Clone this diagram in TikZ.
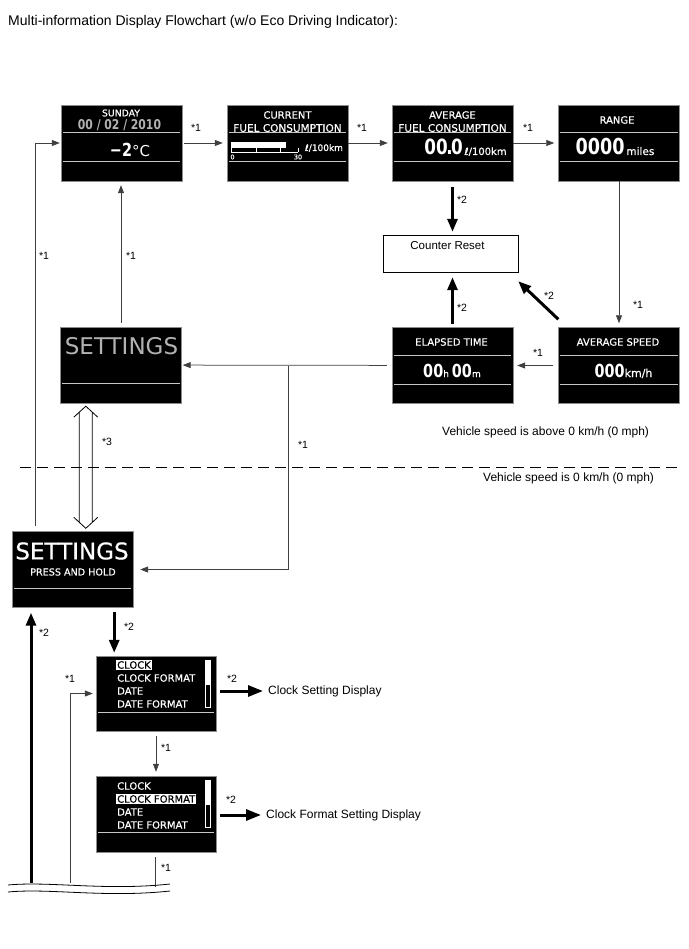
\documentclass[tikz,border=0pt]{standalone}
\usepackage{fontspec}
\setmainfont{Liberation Sans}
\newfontfamily\lcd[FakeBold=0.5]{DejaVu Sans}
\newfontfamily\lcdthin{DejaVu Sans}
\newfontfamily\lcdnum[FakeStretch=0.8]{DejaVu Sans Bold}
\usetikzlibrary{arrows.meta,positioning,calc}

\tikzset{
    screen/.style={draw=black!45, fill=black, minimum width=121pt, minimum height=76pt, inner sep=0pt},
    divider/.style={draw=black!22, line width=1.3pt},
    lcdtxt/.style={text=white, inner sep=0pt, font=\lcd\fontsize{#1}{#1}\selectfont},
    lcdtxt/.default=10,
    item/.style={lcdtxt=10, anchor=west},
    sel/.style={item, fill=white, text=black, inner xsep=1pt, inner ysep=1.2pt, xshift=-1pt},
    flow/.style={draw=black!75, line width=0.75pt, -{Triangle[length=8pt,width=6pt]}, shorten >=4pt},
    push/.style={line width=3pt, -{Triangle[length=13pt,width=10pt]}},
    tag/.style={inner sep=0pt, font=\fontsize{10.5}{12}\selectfont},
    note/.style={inner sep=0pt, anchor=west, font=\fontsize{12}{14}\selectfont},
    hollow/.style={line width=0.8pt},
}

\begin{document}
\begin{tikzpicture}[x=1pt,y=-1pt]
    \useasboundingbox (0,0) rectangle (688,949);

    \node[note, font=\fontsize{14}{16}\selectfont] (title) at (8,22) {Multi-information Display Flowchart (w/o Eco Driving Indicator):};

    % screens
    \node[screen] (sun) at (121.5,143) {};
    \node[screen] (cur) at (287.5,143) {};
    \node[screen] (avg) at (452.5,143) {};
    \node[screen] (rng) at (619,143) {};
    \node[screen] (ela) at (452.5,365.5) {};
    \node[screen] (spd) at (619,365.5) {};
    \node[screen] (set) at (121,365) {};
    \node[screen] (hold) at (72.5,569.5) {};
    \node[screen, minimum width=120pt, minimum height=75pt] (menuA) at (156,693.5) {};
    \node[screen, minimum width=120pt] (menuB) at (156,814) {};
    \node[draw, minimum width=135pt, minimum height=37pt] (reset) at (450.5,253.5) {};
    \node[inner sep=0pt, font=\fontsize{11.5}{13}\selectfont] (resettxt) at (447.5,245.5) {Counter Reset};

    \foreach \s in {sun,cur,avg,rng,ela,spd}
        \draw[divider] ([xshift=2pt,yshift=-28pt]\s.north west) -- ([xshift=-2pt,yshift=-28pt]\s.north east);
    \foreach \s in {sun,cur,avg,rng,ela,spd,set,hold,menuA,menuB}
        \draw[divider] ([xshift=2pt,yshift=-57pt]\s.north west) -- ([xshift=-2pt,yshift=-57pt]\s.north east);

    % screen contents
    \node[lcdtxt=9.3] (sunday) at (121,113) {SUNDAY};
    \node[lcdtxt=13.5, text=black!30] (date) at (119.5,125) {\lcdnum 00 / 02 / 2010};
    \node[lcdtxt=15] (temp) at (130,150) {{\lcdnum\fontsize{18}{18}\selectfont −2}\lcdthin°C};

    \node[lcdtxt=10] (curA) at (287.5,115) {CURRENT};
    \node[lcdtxt=10.5] (curB) at (287.5,128) {FUEL CONSUMPTION};
    \fill[white] (231,142) rectangle (286,148);
    \draw[white, line width=0.8pt] (231,152) -- (298,152);
    \foreach \x in {231,256,280,298}
        \draw[white, line width=0.8pt] (\x,148) -- (\x,152);
    \node[lcdtxt=6.5] (bar0) at (232.5,157) {0};
    \node[lcdtxt=6.5] (bar30) at (298,157) {30};
    \node[lcdtxt=9] (curU) at (324,148) {ℓ/100km};

    \node[lcdtxt=10] (avgA) at (452.5,115) {AVERAGE};
    \node[lcdtxt=10.5] (avgB) at (452.5,128) {FUEL CONSUMPTION};
    \node[lcdtxt=10, anchor=base] (avgV) at (465.5,155) {{\lcdnum\fontsize{21}{21}\selectfont 00\kern-1.5pt.\kern-1.5pt0}\,ℓ/100km};

    \node[lcdtxt=10] (rngA) at (617,120) {RANGE};
    \node[lcdtxt=10.5, anchor=base] (rngV) at (615,155) {{\lcdnum\fontsize{22}{22}\selectfont 0000}\,miles};

    \node[lcdtxt=10] (elaA) at (451.5,342) {ELAPSED TIME};
    \node[lcdtxt=9, anchor=base] (elaV) at (452,377) {{\lcdnum\fontsize{18}{18}\selectfont 00}h\,\,{\lcdnum\fontsize{18}{18}\selectfont 00}m};

    \node[lcdtxt=10] (spdA) at (618,342) {AVERAGE SPEED};
    \node[lcdtxt=11, anchor=base] (spdV) at (623.5,377) {{\lcdnum\fontsize{18}{18}\selectfont 000}km/h};

    \node[lcdtxt=23, text=black!30, font=\lcdthin\fontsize{23}{23}\selectfont] (setT) at (121.5,346.5) {SETTINGS};
    \node[lcdtxt=23] (holdT) at (72,551) {SETTINGS};
    \node[lcdtxt=9.6] (holdS) at (73,572) {PRESS AND HOLD};

    \foreach \t/\s [count=\i] in {CLOCK/sel, CLOCK FORMAT/item, DATE/item, DATE FORMAT/item}
        \node[\s] (a\i) at (117,652+13*\i) {\t};
    \foreach \t/\s [count=\i] in {CLOCK/item, CLOCK FORMAT/sel, DATE/item, DATE FORMAT/item}
        \node[\s] (b\i) at (117,773+13*\i) {\t};
    \foreach \m in {menuA,menuB} {
        \fill[white] ([xshift=-11pt,yshift=-5pt]\m.north east) rectangle ([xshift=-5pt,yshift=-29pt]\m.north east);
        \draw[white, line width=1pt] ([xshift=-10.5pt,yshift=-5pt]\m.north east) rectangle ([xshift=-5.5pt,yshift=-52pt]\m.north east);
    }

    % thin connectors
    \draw[flow, shorten <=2pt] (sun) -- (cur);
    \draw[flow] (cur) -- (avg);
    \draw[flow] (avg) -- (rng);
    \draw[flow] (rng) -- (spd);
    \draw[flow, shorten <=5pt] (spd) -- (ela);
    \draw[flow, shorten <=5pt, shorten >=1pt] (ela) -- (set);
    \coordinate (split) at (288,365.5);
    \draw[flow, shorten >=7pt] (split) |- (hold);
    \draw[flow, shorten <=4pt] (set.north) -- (set.north |- sun.south);
    \coordinate (loop) at (35,526);
    \draw[flow, shorten >=1pt] (loop) |- (sun);

    % thick connectors
    \draw[push, shorten <=6pt, shorten >=3pt] (avg.south) -- (avg.south |- reset.north);
    \draw[push, shorten <=3pt, shorten >=5pt] (ela.north) -- (ela.north |- reset.south);
    \draw[push] ([yshift=8pt]spd.north west) -- ([yshift=-9pt]reset.south east);
    \draw[push, shorten <=4pt, shorten >=3pt] ([xshift=-19pt]hold.south east) -- ([xshift=-19pt]hold.south east |- menuA.north);

    % lower part
    \coordinate (cut1) at (31,883);
    \coordinate (cut2) at (70,883);
    \coordinate (cut3) at (155,887);
    \draw[push, shorten >=5pt] (cut1) -- (cut1 |- hold.south);
    \draw[flow, shorten >=3pt] (cut2) |- (menuA);
    \draw[flow, shorten <=5pt] (menuA) -- (menuB);
    \draw[draw=black!75, line width=0.75pt, shorten <=5pt] (cut3 |- menuB.south) -- (cut3);
    \draw[line width=0.8pt] (8,885) .. controls (50,881) and (105,891) .. (170,884);
    \draw[line width=0.8pt] (8,892) .. controls (50,888) and (105,898) .. (170,891);

    \node[note] (clockset) at (268,691) {Clock Setting Display};
    \node[note] (clockfmt) at (266,815) {Clock Format Setting Display};
    \draw[push, -{Triangle[length=15pt,width=11pt]}, shorten <=4pt, shorten >=5pt] (menuA.east |- clockset.west) -- (clockset.west);
    \draw[push, -{Triangle[length=15pt,width=11pt]}, shorten <=4pt, shorten >=5pt] (menuB.east |- clockfmt.west) -- (clockfmt.west);

    % hollow double arrow
    \coordinate (dtop) at ([xshift=25.5pt,yshift=-3pt]set.south west);
    \coordinate (dbot) at ([xshift=74pt,yshift=3pt]hold.north west);
    \draw[hollow] ($(dtop)+(-12,11)$) -- (dtop) -- ($(dtop)+(12,11)$)
        ($(dtop)+(-6.5,6)$) -- ($(dbot)+(-6.5,-6)$)
        ($(dtop)+(6.5,6)$) -- ($(dbot)+(6.5,-6)$)
        ($(dbot)+(-12,-11)$) -- (dbot) -- ($(dbot)+(12,-11)$);

    % speed border
    \draw[line width=0.9pt, dash pattern=on 11pt off 6pt] (20,467) -- (680,467);
    \node[note] (spdnote) at (442,432) {Vehicle speed is above 0 km/h (0 mph)};
    \node[note] (zeronote) at (483,478) {Vehicle speed is 0 km/h (0 mph)};

    % operation marks
    \foreach \x/\y/\t [count=\i] in {196/128/1, 362/128/1, 528/128/1, 638/305/1, 538/353/1, 462/200/2, 462/308/2, 549/296/2, 131/256/1, 44/256/1, 303/445/1, 107/442/3, 129/627/2, 44/633/2, 70/679/1, 232/679/2, 166/748/1, 231/800/2, 166/868/1}
        \node[tag] (tag\i) at (\x,\y) {*\t};
\end{tikzpicture}
\end{document}
